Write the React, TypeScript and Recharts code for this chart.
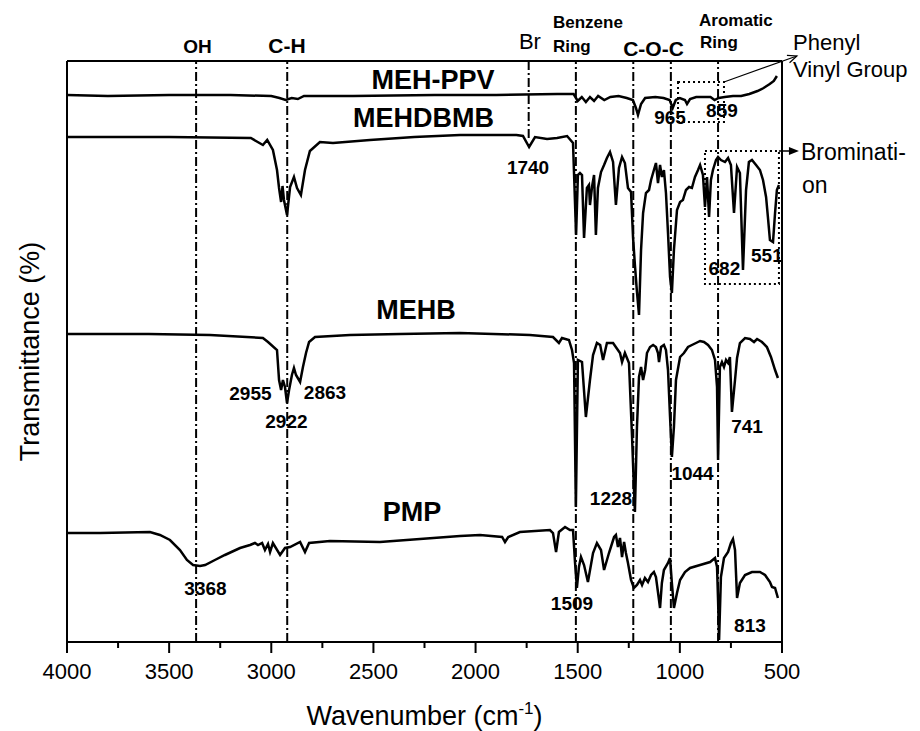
import React from 'react';
import { LineChart, Line, XAxis, YAxis, ReferenceLine, ReferenceArea, Customized } from 'recharts';

const FONT = '"Liberation Sans", Arial, Helvetica, sans-serif';

// ---- data: [wavenumber (cm-1), transmittance (offset, a.u.)] ----
const mehPpv: [number, number][] = [
  [4000,547],[3800,546],[3500,547],[3200,547],[3000,546],[2960,544],[2930,542],[2900,544],[2870,543],[2840,546],
  [2600,546],[2200,547],[1900,547],[1600,548],[1520,548],[1500,541],[1480,545],[1460,540],[1440,545],[1420,541],
  [1400,546],[1370,542],[1340,545],[1300,546],[1260,544],[1230,542],[1215,534],[1205,527],[1190,538],[1170,544],
  [1120,545],[1080,544],[1050,542],[1035,534],[1020,542],[1000,544],[975,542],[965,538],[950,543],[920,545],
  [880,545],[850,545],[830,542],[810,544],[780,545],[740,546],[700,546],[660,548],[620,551],[590,554],
  [560,558],[540,561],[525,566],
];

const mehdbmb: [number, number][] = [
  [4000,505],[3500,505],[3100,504],[3041,497],[3020,502],[2992,492],[2972,472],[2962,454],[2952,440],[2945,456],
  [2938,442],[2923,427],[2908,455],[2889,465],[2874,454],[2855,447],[2835,472],[2811,491],[2762,500],[2698,499],
  [2517,502],[2300,505],[2076,507],[1800,507],[1768,506],[1738,495],[1709,505],[1650,503],[1601,504],[1552,506],
  [1523,499],[1508,407],[1499,467],[1489,469],[1479,467],[1469,404],[1455,454],[1445,457],[1440,437],[1430,455],
  [1420,467],[1411,407],[1401,454],[1386,470],[1371,477],[1357,484],[1342,490],[1327,480],[1313,437],[1298,474],
  [1283,485],[1269,479],[1254,454],[1239,450],[1229,404],[1220,377],[1210,350],[1200,327],[1190,392],[1180,429],
  [1166,449],[1151,452],[1141,462],[1127,472],[1117,479],[1107,459],[1097,477],[1088,465],[1078,472],[1068,449],
  [1058,409],[1048,365],[1039,349],[1029,392],[1014,432],[999,440],[985,442],[970,452],[955,455],[941,454],
  [926,465],[911,472],[901,477],[887,467],[877,435],[867,465],[857,425],[848,462],[838,472],[823,482],
  [813,485],[799,482],[779,480],[764,484],[750,477],[735,429],[720,475],[706,469],[691,372],[676,452],
  [662,480],[647,482],[627,477],[608,472],[593,462],[578,445],[569,425],[559,402],[544,400],[534,429],
  [525,452],[515,457],
];

const mehb: [number, number][] = [
  [4000,308],[3600,308],[3300,307],[3041,304],[3016,300],[2972,292],[2962,262],[2952,252],[2943,262],[2933,255],
  [2923,239],[2913,252],[2899,267],[2889,274],[2879,267],[2859,260],[2845,275],[2830,289],[2815,300],[2786,305],
  [2615,307],[2370,308],[2076,309],[1734,307],[1621,305],[1592,299],[1577,304],[1543,302],[1528,292],[1518,279],
  [1509,135],[1499,282],[1479,280],[1460,225],[1440,262],[1425,287],[1406,299],[1390,297],[1376,282],[1357,299],
  [1327,299],[1293,289],[1283,280],[1269,289],[1249,279],[1234,205],[1225,155],[1220,130],[1210,215],[1200,265],
  [1190,275],[1180,262],[1170,272],[1161,289],[1146,295],[1131,297],[1117,295],[1107,289],[1102,280],[1092,295],
  [1078,297],[1068,292],[1058,272],[1048,225],[1039,185],[1029,215],[1019,262],[999,285],[980,289],[960,295],
  [941,297],[921,299],[901,301],[882,300],[862,297],[843,292],[828,282],[818,255],[813,182],[804,275],
  [794,280],[784,275],[774,282],[764,279],[755,285],[745,230],[730,262],[720,284],[706,299],[681,304],
  [657,303],[637,300],[622,303],[598,300],[574,295],[554,285],[534,272],[520,264],
];

const pmp: [number, number][] = [
  [4000,109],[3838,109],[3594,110],[3545,107],[3496,102],[3447,92],[3413,82],[3383,77],[3349,76],[3324,77],
  [3276,82],[3227,87],[3153,94],[3104,97],[3080,99],[3065,97],[3045,99],[3031,92],[3016,98],[3006,90],
  [2992,99],[2957,87],[2933,94],[2908,95],[2859,100],[2835,90],[2815,99],[2713,101],[2468,100],[2272,103],
  [2076,106],[1978,107],[1870,105],[1856,100],[1840,105],[1783,110],[1636,112],[1621,109],[1606,90],[1592,110],
  [1562,115],[1538,112],[1523,112],[1513,79],[1504,54],[1494,75],[1484,85],[1469,77],[1450,60],[1425,89],
  [1406,99],[1386,92],[1371,72],[1347,89],[1322,105],[1313,107],[1303,95],[1293,104],[1283,85],[1273,100],
  [1264,89],[1254,79],[1239,62],[1225,54],[1210,57],[1195,62],[1185,57],[1171,64],[1156,60],[1141,67],
  [1127,70],[1117,65],[1102,42],[1097,34],[1088,59],[1078,72],[1058,79],[1048,84],[1039,59],[1029,34],
  [1014,49],[999,62],[975,70],[950,74],[901,77],[852,80],[828,84],[818,75],[813,42],[808,2],
  [799,65],[784,84],[764,90],[750,99],[740,103],[730,92],[720,44],[706,59],[681,67],[647,70],
  [608,70],[583,67],[559,60],[549,55],[534,54],[520,44],
];

// bottom-axis ticks
const xTicks = [4000,3750,3500,3250,3000,2750,2500,2250,2000,1750,1500,1250,1000,750,500];

// assignment lines (cm-1)
const bandLines = [3368, 2922, 1509, 1228, 1044, 813];
const brLine = 1740;

// series names: [text, wn, t]
const seriesNames: [string, number, number][] = [
  ['MEH-PPV', 2208, 553], ['MEHDBMB', 2255, 515], ['MEHB', 2292, 323], ['PMP', 2311, 121],
];

// peak labels: [text, wn, t]
const peakLabels: [string, number, number][] = [
  ['2955', 3102, 242], ['2922', 2926, 214], ['2863', 2737, 243], ['1740', 1743, 468],
  ['965', 1048, 518], ['859', 794, 525], ['682', 782, 367], ['551', 574, 380],
  ['1228', 1337, 137], ['1044', 938, 162], ['741', 671, 209],
  ['3368', 3322, 47], ['1509', 1528, 32], ['813', 657, 10],
];

// group headers: [text, wn, t, anchor, size, bold]
const headers: [string, number, number, string, number, boolean][] = [
  ['OH', 3361, 589, 'middle', 19, true],
  ['C-H', 2923, 589, 'middle', 21, true],
  ['Br', 1734, 593, 'middle', 22, false],
  ['Benzene', 1621, 614, 'start', 17, true],
  ['Ring', 1621, 590, 'start', 17, true],
  ['C-O-C', 1129, 586, 'middle', 21, true],
  ['Aromatic', 906, 616, 'start', 17, true],
  ['Ring', 901, 594, 'start', 17, true],
  ['Phenyl', 446, 592, 'start', 22, false],
  ['Vinyl Group', 446, 565, 'start', 22, false],
  ['Brominati-', 407, 482, 'start', 23, false],
  ['on', 402, 449, 'start', 23, false],
];

// boxes [wn1, wn2, t1, t2]
const phenylBox = [1009, 784, 520, 560];
const bromBox = [877, 515, 358, 491];

const toData = (a: [number, number][]) => a.map(([wn, t]) => ({ wn, t }));

const W = 904, H = 723;
const PLOT = { left: 59, top: 53, width: 715, height: 581 };
const X_MIN = 500, X_MAX = 4000, Y_MAX = 581;
const XAXIS_H = 60;
const MARGIN = { top: PLOT.top, left: PLOT.left, right: W - PLOT.left - PLOT.width, bottom: H - PLOT.top - PLOT.height - XAXIS_H };

const sx = (wn: number) => PLOT.left + ((X_MAX - wn) / (X_MAX - X_MIN)) * PLOT.width;
const sy = (t: number) => PLOT.top + ((Y_MAX - t) / Y_MAX) * PLOT.height;

const Tick = (props: any) => {
  const { x, y, payload } = props;
  const v = payload.value;
  const major = v % 500 === 0;
  return (
    <g>
      <line x1={x} x2={x} y1={y} y2={y + (major ? 11 : 6)} stroke="#000" strokeWidth={2} />
      {major && (
        <text x={x} y={y + 37} textAnchor="middle" fontSize={22} fontFamily={FONT} fill="#000">{v}</text>
      )}
    </g>
  );
};

const Overlay = () => {
  // phenyl arrow
  const ps = { x: sx(phenylBox[1]), y: sy(phenylBox[3]) };
  const pe = { x: sx(427), y: sy(586) };
  const ang = Math.atan2(pe.y - ps.y, pe.x - ps.x);
  const hl = 10;
  const h1 = { x: pe.x - hl * Math.cos(ang - 0.4), y: pe.y - hl * Math.sin(ang - 0.4) };
  const h2 = { x: pe.x - hl * Math.cos(ang + 0.4), y: pe.y - hl * Math.sin(ang + 0.4) };
  // bromination arrow
  const bs = { x: sx(bromBox[1]), y: sy(bromBox[3]) };
  const be = { x: sx(417), y: sy(bromBox[3]) };
  return (
    <g fontFamily={FONT} fill="#000">
      {seriesNames.map(([s, wn, t]) => (
        <text key={s} x={sx(wn)} y={sy(t)} textAnchor="middle" fontSize={27} fontWeight="bold">{s}</text>
      ))}
      {peakLabels.map(([s, wn, t]) => (
        <text key={s} x={sx(wn)} y={sy(t)} textAnchor="middle" fontSize={19} fontWeight="bold">{s}</text>
      ))}
      {headers.map(([s, wn, t, anchor, size, bold], i) => (
        <text key={i} x={sx(wn)} y={sy(t)} textAnchor={anchor as any} fontSize={size} fontWeight={bold ? 'bold' : 'normal'}>{s}</text>
      ))}
      <line x1={ps.x} y1={ps.y} x2={pe.x} y2={pe.y} stroke="#000" strokeWidth={1.2} />
      <polyline points={`${h1.x},${h1.y} ${pe.x},${pe.y} ${h2.x},${h2.y}`} fill="none" stroke="#000" strokeWidth={1.2} />
      <line x1={bs.x} y1={bs.y} x2={be.x - 8} y2={be.y} stroke="#000" strokeWidth={1.5} />
      <polygon points={`${be.x},${be.y} ${be.x - 10},${be.y - 4} ${be.x - 10},${be.y + 4}`} fill="#000" />
      <text x={PLOT.left + PLOT.width / 2} y={717} textAnchor="middle" fontSize={27}>
        Wavenumber (cm<tspan fontSize={17} dy={-11}>-1</tspan><tspan dy={11}>)</tspan>
      </text>
      <text transform={`translate(31, ${PLOT.top + PLOT.height / 2}) rotate(-90)`} textAnchor="middle" fontSize={27}>
        Transmittance (%)
      </text>
    </g>
  );
};

export default function App() {
  const lineProps = { type: 'linear' as const, dataKey: 't', dot: false, stroke: '#000', strokeWidth: 2.5, isAnimationActive: false, activeDot: false };
  return (
    <LineChart width={W} height={H} margin={MARGIN}>
      <XAxis
        dataKey="wn"
        type="number"
        domain={[X_MIN, X_MAX]}
        reversed
        ticks={xTicks}
        interval={0}
        tick={<Tick />}
        tickLine={false}
        tickSize={0}
        tickMargin={0}
        height={XAXIS_H}
        axisLine={{ stroke: '#000', strokeWidth: 2 }}
        allowDataOverflow
      />
      <YAxis type="number" domain={[0, Y_MAX]} hide width={0} allowDataOverflow />
      <ReferenceLine x={X_MAX} stroke="#000" strokeWidth={2} />
      <ReferenceLine x={X_MIN} stroke="#000" strokeWidth={2} />
      <ReferenceLine y={Y_MAX} stroke="#000" strokeWidth={2} />
      {bandLines.map((v) => (
        <ReferenceLine key={v} x={v} stroke="#000" strokeWidth={2} strokeDasharray="9 3 2 3" />
      ))}
      <ReferenceLine segment={[{ x: brLine, y: 504 }, { x: brLine, y: Y_MAX }]} stroke="#000" strokeWidth={2} strokeDasharray="9 3 2 3" />
      <ReferenceArea x1={phenylBox[0]} x2={phenylBox[1]} y1={phenylBox[2]} y2={phenylBox[3]} fill="none" fillOpacity={0} stroke="#000" strokeWidth={2} strokeDasharray="2 3" />
      <ReferenceArea x1={bromBox[0]} x2={bromBox[1]} y1={bromBox[2]} y2={bromBox[3]} fill="none" fillOpacity={0} stroke="#000" strokeWidth={2} strokeDasharray="2 3" />
      <Line {...lineProps} data={toData(mehPpv)} name="MEH-PPV" />
      <Line {...lineProps} data={toData(mehdbmb)} name="MEHDBMB" />
      <Line {...lineProps} data={toData(mehb)} name="MEHB" />
      <Line {...lineProps} data={toData(pmp)} name="PMP" />
      <Customized component={<Overlay />} />
    </LineChart>
  );
}
